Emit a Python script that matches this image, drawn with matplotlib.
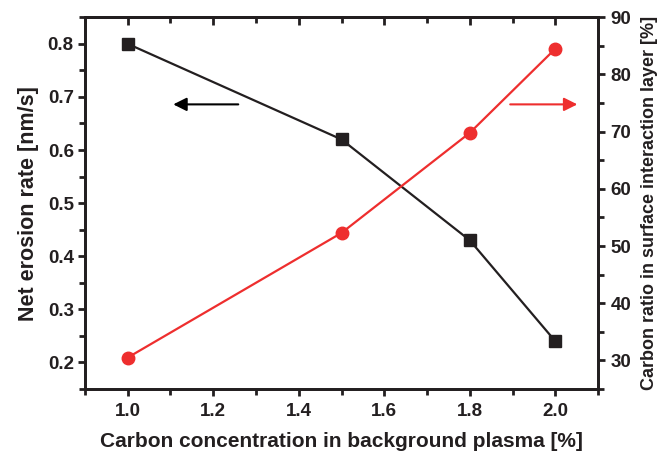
import matplotlib.pyplot as plt
from matplotlib.ticker import MultipleLocator

plt.rcParams["font.family"] = ["Liberation Sans", "DejaVu Sans"]
plt.rcParams["font.weight"] = "bold"

carbon_conc = [1.0, 1.5, 1.8, 2.0]
erosion_rate = [0.80, 0.62, 0.43, 0.24]
carbon_ratio = [30.5, 52.3, 69.8, 84.5]

black = "#231f20"
red = "#ee2e2e"

fig = plt.figure(figsize=(6.69, 4.55), dpi=100)
ax = fig.add_axes([0.127, 0.145, 0.767, 0.817])
ax2 = ax.twinx()

ax.plot(carbon_conc, erosion_rate, color=black, lw=1.6, marker="s", ms=8.5, zorder=3)
ax2.plot(carbon_conc, carbon_ratio, color=red, lw=1.6, marker="o", ms=9, zorder=3)

ax.set_xlim(0.9, 2.1)
ax.set_ylim(0.15, 0.85)
ax2.set_ylim(25, 90)

ax.xaxis.set_major_locator(MultipleLocator(0.2))
ax.xaxis.set_minor_locator(MultipleLocator(0.1))
ax.yaxis.set_major_locator(MultipleLocator(0.1))
ax.yaxis.set_minor_locator(MultipleLocator(0.05))
ax2.yaxis.set_major_locator(MultipleLocator(10))
ax2.yaxis.set_minor_locator(MultipleLocator(5))
ax.xaxis.set_major_formatter(plt.FormatStrFormatter("%.1f"))
ax.yaxis.set_major_formatter(plt.FormatStrFormatter("%.1f"))

for a in (ax, ax2):
    for s in a.spines.values():
        s.set_linewidth(2)
        s.set_color(black)
ax.tick_params(axis="x", which="both", direction="out", top=False, width=2,
               labelsize=13.5, colors=black, pad=5)
ax.tick_params(axis="x", which="major", length=5)
ax.tick_params(axis="x", which="minor", length=4)
ax.tick_params(axis="y", which="both", direction="out", width=2, labelsize=13.5,
               colors=black, pad=3)
ax.tick_params(axis="y", which="major", length=5)
ax.tick_params(axis="y", which="minor", length=4)
ax2.tick_params(axis="y", which="both", direction="out", width=2, labelsize=13.5,
                colors=black, pad=4)
ax2.tick_params(axis="y", which="major", length=5)
ax2.tick_params(axis="y", which="minor", length=4)

# top axis ticks pointing inward, no labels
top = ax.secondary_xaxis("top")
top.xaxis.set_major_locator(MultipleLocator(0.2))
top.xaxis.set_minor_locator(MultipleLocator(0.1))
top.tick_params(which="both", direction="in", width=2, labeltop=False, colors=black)
top.tick_params(which="major", length=6)
top.tick_params(which="minor", length=4)
top.spines["top"].set_linewidth(2)

ax.set_xlabel("Carbon concentration in background plasma [%]", fontsize=15,
              fontweight="bold", color=black, labelpad=9)
ax.set_ylabel("Net erosion rate [nm/s]", fontsize=15.5, fontweight="bold",
              color=black, labelpad=6)
ax2.set_ylabel("Carbon ratio in surface interaction layer [%]", fontsize=13,
               fontweight="bold", color=black, labelpad=7)

ax.annotate("", xy=(1.1, 0.686), xytext=(1.265, 0.686),
            arrowprops=dict(arrowstyle="-|>", color="black", lw=1.5,
                            mutation_scale=20))
ax.annotate("", xy=(2.058, 0.686), xytext=(1.888, 0.686),
            arrowprops=dict(arrowstyle="-|>", color=red, lw=1.5,
                            mutation_scale=20))

fig.savefig("out.png", dpi=100)
